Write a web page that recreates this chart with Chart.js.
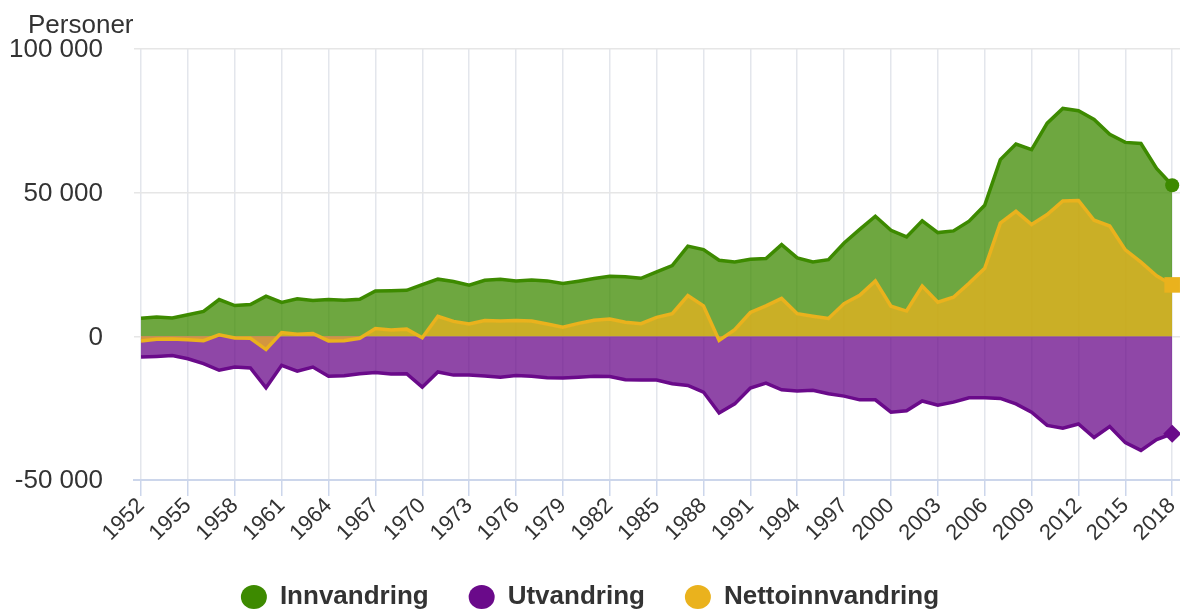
<!DOCTYPE html>
<html>
<head>
<meta charset="utf-8">
<script src="https://cdn.jsdelivr.net/npm/chart.js@4/dist/chart.umd.min.js"></script>
<style>
  html, body { margin: 0; padding: 0; background: #fff; }
</style>
</head>
<body>
<canvas id="myChart" width="1180" height="610"></canvas>
<script>
var years = [1952, 1953, 1954, 1955, 1956, 1957, 1958, 1959, 1960, 1961,
  1962, 1963, 1964, 1965, 1966, 1967, 1968, 1969, 1970, 1971,
  1972, 1973, 1974, 1975, 1976, 1977, 1978, 1979, 1980, 1981,
  1982, 1983, 1984, 1985, 1986, 1987, 1988, 1989, 1990, 1991,
  1992, 1993, 1994, 1995, 1996, 1997, 1998, 1999, 2000, 2001,
  2002, 2003, 2004, 2005, 2006, 2007, 2008, 2009, 2010, 2011,
  2012, 2013, 2014, 2015, 2016, 2017, 2018];

var innvandring = [6300, 6700, 6400, 7500, 8700, 12800, 10700, 11100, 14000, 11800,
  13100, 12500, 12800, 12600, 12900, 15800, 15900, 16000, 18000, 19900,
  19100, 17800, 19500, 19900, 19300, 19600, 19300, 18400, 19200, 20100,
  20900, 20700, 20200, 22400, 24600, 31400, 30200, 26500, 25900, 26800,
  27100, 31900, 27300, 25900, 26700, 32500, 37200, 41800, 36900, 34600,
  40200, 36100, 36700, 40100, 45600, 61500, 66900, 65000, 74200, 79300,
  78500, 75500, 70300, 67500, 67100, 58400, 52600];

var utvandring = [-7200, -7000, -6700, -7800, -9500, -11800, -10700, -11000, -17900, -10100,
  -12100, -10700, -13900, -13700, -13000, -12600, -13100, -13000, -17700, -12400,
  -13500, -13500, -13800, -14200, -13600, -13900, -14400, -14500, -14200, -13900,
  -14000, -15100, -15200, -15200, -16500, -17100, -19400, -26700, -23500, -18000,
  -16300, -18600, -19000, -18800, -20000, -20800, -22100, -22100, -26400, -25900,
  -22500, -24000, -22900, -21400, -21400, -21600, -23500, -26400, -31000, -32000,
  -30500, -35200, -31400, -37000, -39700, -35900, -33900];

var nettoinnvandring = [-1600, -1000, -900, -1200, -1500, 500, -600, -700, -4600, 1300,
  700, 1000, -1600, -1500, -700, 2700, 2200, 2500, -500, 7000,
  5200, 4300, 5500, 5300, 5500, 5300, 4300, 3200, 4500, 5600,
  6000, 4900, 4400, 6600, 7900, 14200, 10600, -1400, 2300, 8300,
  10600, 13200, 7900, 7000, 6200, 11400, 14300, 19300, 10500, 8800,
  17500, 11900, 13600, 18500, 23700, 39400, 43500, 38900, 42400, 47100,
  47300, 40400, 38400, 30100, 25800, 21100, 17900];

var tickYears = [1952, 1955, 1958, 1961, 1964, 1967, 1970, 1973, 1976, 1979, 1982, 1985,
  1988, 1991, 1994, 1997, 2000, 2003, 2006, 2009, 2012, 2015, 2018];

var FONT = '"Liberation Sans", Arial, sans-serif';

function toPoints(values) {
  return values.map(function(v, i) { return { x: years[i], y: v }; });
}

function lastOnly(r) {
  return function(ctx) { return ctx.dataIndex === years.length - 1 ? r : 0; };
}

function formatNumber(v) {
  var s = String(Math.abs(v)).replace(/\B(?=(\d{3})+(?!\d))/g, ' ');
  return (v < 0 ? '-' : '') + s;
}

// "Personer" over the y axis
var personerLabel = {
  id: 'personerLabel',
  afterDraw: function(chart) {
    var ctx = chart.ctx;
    ctx.save();
    ctx.font = '26px ' + FONT;
    ctx.fillStyle = '#333333';
    ctx.textBaseline = 'alphabetic';
    ctx.textAlign = 'left';
    ctx.fillText('Personer', 28, 33);
    ctx.restore();
  }
};

var ctx = document.getElementById('myChart').getContext('2d');
var chart = new Chart(ctx, {
  type: 'line',
  data: {
    datasets: [{
      label: 'Innvandring',
      data: toPoints(innvandring),
      borderColor: 'rgb(61, 138, 0)',
      backgroundColor: 'rgba(61, 138, 0, 0.75)',
      fill: 'origin',
      order: 2,
      pointStyle: 'circle',
      pointRadius: lastOnly(7),
      pointBackgroundColor: 'rgb(61, 138, 0)',
      pointBorderWidth: 0
    }, {
      label: 'Utvandring',
      data: toPoints(utvandring),
      borderColor: 'rgb(106, 10, 138)',
      backgroundColor: 'rgba(106, 10, 138, 0.75)',
      fill: 'origin',
      order: 1,
      pointStyle: 'rectRot',
      pointRadius: lastOnly(9),
      pointBackgroundColor: 'rgb(106, 10, 138)',
      pointBorderWidth: 0
    }, {
      label: 'Nettoinnvandring',
      data: toPoints(nettoinnvandring),
      borderColor: 'rgb(234, 178, 29)',
      backgroundColor: 'rgba(234, 178, 29, 0.75)',
      fill: 'origin',
      order: 0,
      pointStyle: 'rect',
      pointRadius: lastOnly(11),
      pointBackgroundColor: 'rgb(234, 178, 29)',
      pointBorderWidth: 0
    }]
  },
  options: {
    responsive: false,
    animation: false,
    clip: false,
    elements: {
      line: { borderWidth: 3.5, tension: 0 }
    },
    layout: {
      autoPadding: false,
      padding: { top: 49, left: 0, right: 0, bottom: -10 }
    },
    plugins: {
      tooltip: { enabled: false },
      legend: {
        position: 'bottom',
        labels: {
          usePointStyle: true,
          pointStyle: 'circle',
          pointStyleWidth: 26,
          boxWidth: 26,
          boxHeight: 17,
          padding: 40,
          color: '#333333',
          font: { family: FONT, size: 26, weight: 'bold', lineHeight: 1 },
          generateLabels: function(chart) {
            return chart.data.datasets.map(function(ds, i) {
              return {
                text: ds.label,
                fillStyle: ds.borderColor,
                strokeStyle: ds.borderColor,
                lineWidth: 0,
                pointStyle: 'circle',
                datasetIndex: i,
                fontColor: '#333333'
              };
            });
          }
        }
      }
    },
    scales: {
      x: {
        type: 'linear',
        min: 1951.55,
        max: 2018.5,
        afterBuildTicks: function(scale) {
          scale.ticks = tickYears.map(function(v) { return { value: v }; });
        },
        afterFit: function(scale) {
          scale.height = 64;
          scale.paddingLeft = 0;
          scale.paddingRight = 0;
        },
        grid: {
          color: '#e3e6ec',
          lineWidth: 1.5,
          tickColor: '#ccd6eb',
          tickLength: 16
        },
        border: { color: '#ccd6eb', width: 2 },
        ticks: {
          autoSkip: false,
          minRotation: 45,
          maxRotation: 45,
          padding: -3,
          color: '#333333',
          font: { family: FONT, size: 22 },
          callback: function(value) { return String(value); }
        }
      },
      y: {
        min: -50000,
        max: 100000,
        afterFit: function(scale) { scale.width = 134; },
        grid: { color: '#e6e6e6', lineWidth: 1.5, drawTicks: false },
        border: { display: false },
        ticks: {
          stepSize: 50000,
          padding: 31,
          labelOffset: 1,
          color: '#333333',
          font: { family: FONT, size: 26 },
          callback: function(value) { return formatNumber(value); }
        }
      }
    }
  },
  plugins: [personerLabel]
});
</script>
</body>
</html>
